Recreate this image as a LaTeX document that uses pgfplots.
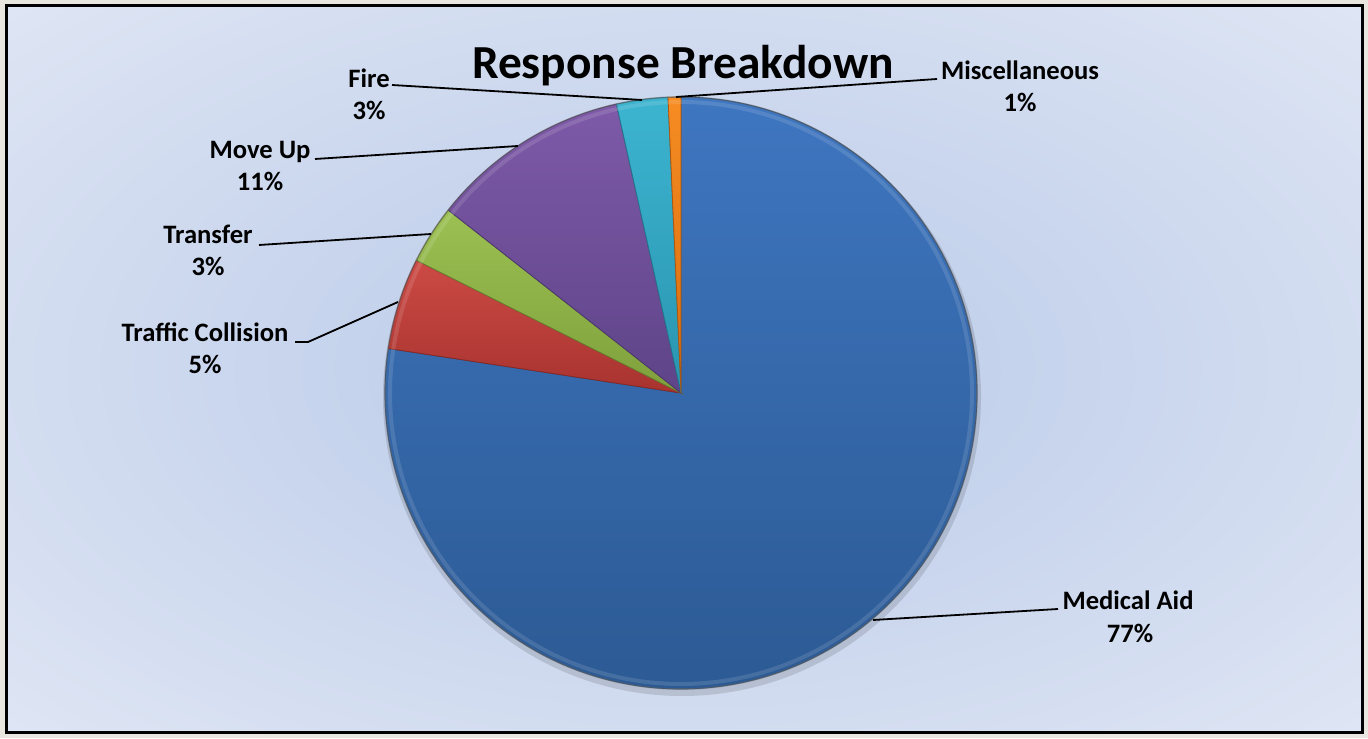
\documentclass[border=0pt]{standalone}
\usepackage{pgfplots}
\usepackage{pgfplotstable}
\pgfplotsset{compat=1.18}
\usepackage{fontspec}
\setmainfont{Carlito}
\definecolor{frame}{HTML}{E9E6DF}
\definecolor{bgIn}{HTML}{B8C9E8}
\definecolor{bgOut}{HTML}{E2E8F5}
\definecolor{medT}{HTML}{3E76C0}\definecolor{medB}{HTML}{2C5A94}
\definecolor{trfT}{HTML}{CC4A45}\definecolor{trfB}{HTML}{A8332F}
\definecolor{traT}{HTML}{9CC052}\definecolor{traB}{HTML}{7FA03C}
\definecolor{movT}{HTML}{7E5AA8}\definecolor{movB}{HTML}{5E4488}
\definecolor{firT}{HTML}{3CB4D0}\definecolor{firB}{HTML}{2A95B0}
\definecolor{misT}{HTML}{F68C22}\definecolor{misB}{HTML}{D86C10}

\pgfplotstableread{
name value
MedicalAid 77.4
TrafficCollision 5.0
Transfer 3.2
MoveUp 10.9
Fire 2.8
Miscellaneous 0.7
}\piedata

\begin{document}
\begin{tikzpicture}
\def\aA{90}
\pgfplotstablegetelem{0}{value}\of\piedata\pgfmathsetmacro\aB{\aA-3.6*\pgfplotsretval}
\pgfplotstablegetelem{1}{value}\of\piedata\pgfmathsetmacro\aC{\aB-3.6*\pgfplotsretval}
\pgfplotstablegetelem{2}{value}\of\piedata\pgfmathsetmacro\aD{\aC-3.6*\pgfplotsretval}
\pgfplotstablegetelem{3}{value}\of\piedata\pgfmathsetmacro\aE{\aD-3.6*\pgfplotsretval}
\pgfplotstablegetelem{4}{value}\of\piedata\pgfmathsetmacro\aF{\aE-3.6*\pgfplotsretval}
\pgfplotstablegetelem{5}{value}\of\piedata\pgfmathsetmacro\aG{\aF-3.6*\pgfplotsretval}
\begin{axis}[
  width=684pt, height=369pt, scale only axis,
  xmin=0, xmax=1368, ymin=0, ymax=738,
  hide axis, clip=false,
  every axis plot/.append style={line width=0.4pt},
]
% background
\fill[frame] (axis cs:0,0) rectangle (axis cs:1368,738);
\begin{scope}
\clip (axis cs:6,6) rectangle (axis cs:1362,732);
\shade[inner color=bgIn, outer color=bgOut]
  (axis cs:-350,-200) rectangle (axis cs:1718,938);
\end{scope}
\draw[black, line width=1.5pt] (axis cs:6,6) rectangle (axis cs:1362,732);
% shadow
\fill[black, opacity=0.12] (axis cs:682,341) circle[radius=299];
% slices
\addplot[draw=medB!80!black, top color=medT, bottom color=medB, domain=\aB:\aA, samples=150, variable=\t]
  ({681+296*cos(\t)},{345+296*sin(\t)}) -- (axis cs:681,345) -- cycle;
\addplot[draw=trfB!80!black, top color=trfT, bottom color=trfB, domain=\aC:\aB, samples=20, variable=\t]
  ({681+296*cos(\t)},{345+296*sin(\t)}) -- (axis cs:681,345) -- cycle;
\addplot[draw=traB!80!black, top color=traT, bottom color=traB, domain=\aD:\aC, samples=20, variable=\t]
  ({681+296*cos(\t)},{345+296*sin(\t)}) -- (axis cs:681,345) -- cycle;
\addplot[draw=movB!80!black, top color=movT, bottom color=movB, domain=\aE:\aD, samples=40, variable=\t]
  ({681+296*cos(\t)},{345+296*sin(\t)}) -- (axis cs:681,345) -- cycle;
\addplot[draw=firB!80!black, top color=firT, bottom color=firB, domain=\aF:\aE, samples=15, variable=\t]
  ({681+296*cos(\t)},{345+296*sin(\t)}) -- (axis cs:681,345) -- cycle;
\addplot[draw=misB!80!black, top color=misT, bottom color=misB, domain=\aG:\aF, samples=8, variable=\t]
  ({681+296*cos(\t)},{345+296*sin(\t)}) -- (axis cs:681,345) -- cycle;
% rim bevel
\draw[white, opacity=0.12, line width=2pt] (axis cs:681,345) circle[radius=291];
\draw[black!60, opacity=0.5, line width=0.8pt] (axis cs:681,345) circle[radius=296];
% title
\node[anchor=base, font=\bfseries\fontsize{23.7}{28}\selectfont] at (axis cs:683,659) {Response Breakdown};
% leader lines
\begin{scope}[line width=0.9pt, black]
\draw (axis cs:676,641) -- (axis cs:937,659);
\draw (axis cs:642,638) -- (axis cs:392,653);
\draw (axis cs:518,592) -- (axis cs:315,579);
\draw (axis cs:431,504) -- (axis cs:259,493);
\draw (axis cs:398,436) -- (axis cs:308,396) -- (axis cs:295,396);
\draw (axis cs:873,118) -- (axis cs:1058,129);
\end{scope}
% labels
\begin{scope}[every node/.style={anchor=base, font=\bfseries\fontsize{13.3}{16}\selectfont}]
\node at (axis cs:1020,658) {Miscellaneous};
\node at (axis cs:1020,626) {1\%};
\node at (axis cs:369,650) {Fire};
\node at (axis cs:369,618) {3\%};
\node at (axis cs:260,579) {Move Up};
\node at (axis cs:260,547) {11\%};
\node at (axis cs:208,494) {Transfer};
\node at (axis cs:208,462) {3\%};
\node at (axis cs:205,396) {Traffic Collision};
\node at (axis cs:205,364) {5\%};
\node at (axis cs:1128,128) {Medical Aid};
\node at (axis cs:1130,96) {77\%};
\end{scope}
\end{axis}
\end{tikzpicture}
\end{document}
